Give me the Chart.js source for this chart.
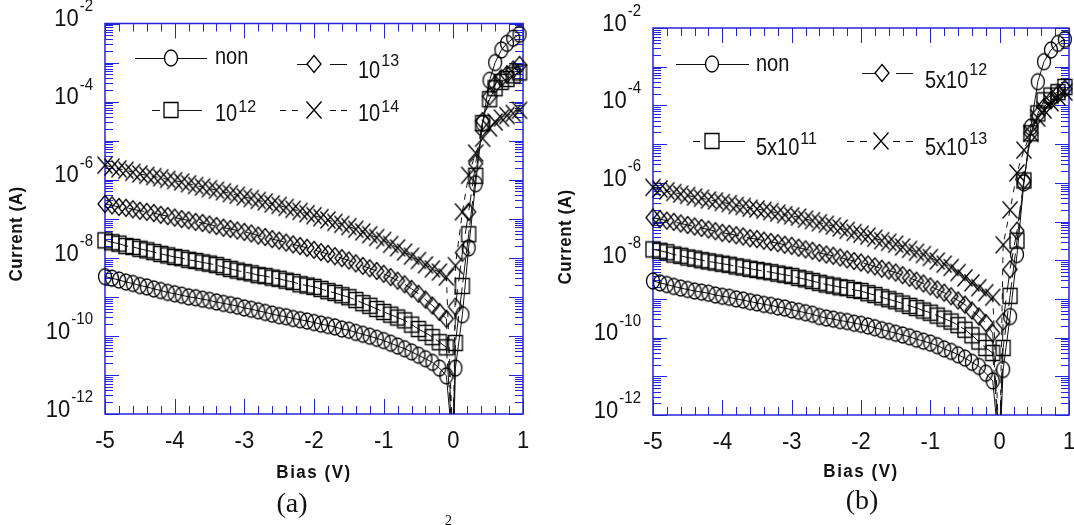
<!DOCTYPE html>
<html>
<head>
<meta charset="utf-8">
<title>Current vs bias</title>
<script src="https://cdn.jsdelivr.net/npm/chart.js@4.4.1/dist/chart.umd.min.js"></script>
<style>
    html, body { margin: 0; padding: 0; background: #fff; }
    #page { position: relative; width: 1074px; height: 525px; overflow: hidden; background: #fff; }
    #page canvas { position: absolute; top: 0; }
    .cap { position: absolute; width: 80px; text-align: center; line-height: 1;
           font-family: "Liberation Serif", "Times New Roman", serif; font-size: 28px; color: #111; }
    .cut { position: absolute; font-family: "Liberation Serif", serif; font-size: 14px; color: #111; line-height: 1; }
</style>
</head>
<body>
<div id="page">
    <canvas id="chartA" width="537" height="490" style="left:0"></canvas>
    <canvas id="chartB" width="537" height="490" style="left:537px"></canvas>
    <div class="cap" style="left:252px; top:489px">(a)</div>
    <div class="cap" style="left:822px; top:486px">(b)</div>
    <div class="cut" style="left:445px; top:514px">2</div>
</div>
<script>
// bias points, shared by all curves of a panel
const biasNeg = [-5.0, -4.9, -4.8, -4.7, -4.6, -4.5, -4.4, -4.3, -4.2, -4.1,
                 -4.0, -3.9, -3.8, -3.7, -3.6, -3.5, -3.4, -3.3, -3.2, -3.1,
                 -3.0, -2.9, -2.8, -2.7, -2.6, -2.5, -2.4, -2.3, -2.2, -2.1,
                 -2.0, -1.9, -1.8, -1.7, -1.6, -1.5, -1.4, -1.3, -1.2, -1.1,
                 -1.0, -0.9, -0.8, -0.7, -0.6, -0.5, -0.4, -0.3, -0.2, -0.1, 0.0];
const biasPosA = [0.03, 0.13, 0.22, 0.32, 0.42, 0.52, 0.60, 0.69, 0.77, 0.86, 0.95];
const biasPosB = [0.05, 0.15, 0.25, 0.35, 0.45, 0.55, 0.64, 0.74, 0.84, 0.94];

// panel (a) currents (A)
const curNonA = [3.3e-9, 3.0e-9, 2.7e-9, 2.4e-9, 2.2e-9, 1.95e-9, 1.8e-9, 1.6e-9, 1.45e-9, 1.3e-9,
                 1.2e-9, 1.1e-9, 1.0e-9, 9.5e-10, 8.7e-10, 8.1e-10, 7.4e-10, 6.8e-10, 6.3e-10, 5.8e-10,
                 5.2e-10, 4.8e-10, 4.4e-10, 4.0e-10, 3.6e-10, 3.3e-10, 3.1e-10, 2.8e-10, 2.6e-10, 2.4e-10,
                 2.2e-10, 2.0e-10, 1.85e-10, 1.7e-10, 1.5e-10, 1.4e-10, 1.23e-10, 1.1e-10, 9.8e-11, 8.7e-11,
                 7.6e-11, 6.5e-11, 5.5e-11, 4.7e-11, 3.9e-11, 3.2e-11, 2.6e-11, 2.1e-11, 1.5e-11, 9.5e-12,
                 1e-13,
                 1.5e-11, 3.5e-10, 1.8e-8, 7.9e-7, 2.8e-5, 3.5e-4, 1.0e-3, 2.1e-3, 3.1e-3, 4.2e-3, 5.3e-3];
const cur1e12A = [2.8e-8, 2.5e-8, 2.3e-8, 2.0e-8, 1.9e-8, 1.7e-8, 1.55e-8, 1.4e-8, 1.26e-8, 1.15e-8,
                  1.05e-8, 9.8e-9, 8.9e-9, 8.3e-9, 7.6e-9, 7.1e-9, 6.5e-9, 5.8e-9, 5.2e-9, 4.7e-9,
                  4.3e-9, 4.0e-9, 3.6e-9, 3.4e-9, 3.1e-9, 2.9e-9, 2.6e-9, 2.4e-9, 2.1e-9, 1.95e-9,
                  1.8e-9, 1.6e-9, 1.4e-9, 1.26e-9, 1.1e-9, 9.8e-10, 8.3e-10, 6.9e-10, 5.9e-10, 4.9e-10,
                  4.1e-10, 3.5e-10, 2.95e-10, 2.5e-10, 1.95e-10, 1.5e-10, 1.2e-10, 9.3e-11, 6.9e-11, 5.1e-11,
                  1e-13,
                  6.6e-11, 1.9e-9, 4.0e-8, 1.26e-6, 2.8e-5, 1.15e-4, 2.2e-4, 3.2e-4, 3.8e-4, 4.7e-4, 5.6e-4];
const cur1e13A = [2.4e-7, 2.2e-7, 2.0e-7, 1.9e-7, 1.75e-7, 1.6e-7, 1.5e-7, 1.4e-7, 1.26e-7, 1.17e-7,
                  1.07e-7, 9.8e-8, 9.1e-8, 8.3e-8, 7.8e-8, 7.1e-8, 6.5e-8, 5.9e-8, 5.5e-8, 5.0e-8,
                  4.6e-8, 4.2e-8, 3.7e-8, 3.4e-8, 3.0e-8, 2.75e-8, 2.45e-8, 2.2e-8, 2.0e-8, 1.8e-8,
                  1.6e-8, 1.4e-8, 1.26e-8, 1.1e-8, 9.8e-9, 8.5e-9, 7.2e-9, 6.2e-9, 5.4e-9, 4.6e-9,
                  3.9e-9, 3.2e-9, 2.6e-9, 2.1e-9, 1.6e-9, 1.2e-9, 8.5e-10, 6.0e-10, 4.1e-10, 2.75e-10,
                  1e-13,
                  5.6e-10, 1.35e-8, 1.5e-7, 2.6e-6, 3.2e-5, 1.35e-4, 2.8e-4, 4.0e-4, 5.0e-4, 6.6e-4, 8.7e-4];
const cur1e14A = [2.35e-6, 2.1e-6, 1.9e-6, 1.75e-6, 1.55e-6, 1.4e-6, 1.3e-6, 1.2e-6, 1.12e-6, 1.02e-6,
                  9.5e-7, 8.7e-7, 7.9e-7, 7.1e-7, 6.5e-7, 5.9e-7, 5.4e-7, 4.9e-7, 4.4e-7, 4.0e-7,
                  3.6e-7, 3.3e-7, 2.95e-7, 2.7e-7, 2.4e-7, 2.2e-7, 1.95e-7, 1.75e-7, 1.55e-7, 1.35e-7,
                  1.2e-7, 1.07e-7, 9.3e-8, 8.1e-8, 7.2e-8, 6.3e-8, 5.4e-8, 4.6e-8, 3.9e-8, 3.3e-8,
                  2.8e-8, 2.2e-8, 1.8e-8, 1.4e-8, 1.1e-8, 8.5e-9, 6.6e-9, 5.2e-9, 4.3e-9, 3.2e-9,
                  1e-13,
                  6.3e-9, 1.5e-7, 1.3e-6, 4.8e-6, 1.15e-5, 2.1e-5, 3.0e-5, 3.8e-5, 4.4e-5, 5.0e-5, 6.0e-5];

// panel (b) currents (A)
const curNonB = [2.9e-9, 2.6e-9, 2.35e-9, 2.1e-9, 1.9e-9, 1.75e-9, 1.6e-9, 1.5e-9, 1.4e-9, 1.26e-9,
                 1.17e-9, 1.1e-9, 1.0e-9, 9.3e-10, 8.5e-10, 7.9e-10, 7.2e-10, 6.8e-10, 6.2e-10, 5.8e-10,
                 5.2e-10, 4.8e-10, 4.4e-10, 4.0e-10, 3.5e-10, 3.2e-10, 3.0e-10, 2.75e-10, 2.6e-10, 2.35e-10,
                 2.2e-10, 2.0e-10, 1.8e-10, 1.6e-10, 1.45e-10, 1.3e-10, 1.17e-10, 1.05e-10, 9.1e-11, 8.1e-11,
                 7.2e-11, 6.2e-11, 5.1e-11, 4.4e-11, 3.6e-11, 2.95e-11, 2.3e-11, 1.8e-11, 1.2e-11, 7.6e-12,
                 1e-13,
                 1.5e-11, 3.5e-10, 1.4e-8, 1.0e-6, 2.75e-5, 4.1e-4, 1.35e-3, 2.7e-3, 4.0e-3, 5.1e-3];
const cur5e11B = [1.9e-8, 1.75e-8, 1.6e-8, 1.4e-8, 1.3e-8, 1.17e-8, 1.1e-8, 1.0e-8, 9.3e-9, 8.7e-9,
                  8.1e-9, 7.6e-9, 6.9e-9, 6.5e-9, 6.0e-9, 5.6e-9, 5.2e-9, 4.9e-9, 4.5e-9, 4.2e-9,
                  3.9e-9, 3.5e-9, 3.2e-9, 2.9e-9, 2.6e-9, 2.35e-9, 2.2e-9, 2.0e-9, 1.9e-9, 1.7e-9,
                  1.6e-9, 1.4e-9, 1.26e-9, 1.1e-9, 9.8e-10, 8.7e-10, 7.6e-10, 6.6e-10, 5.8e-10, 5.0e-10,
                  4.4e-10, 3.7e-10, 3.1e-10, 2.6e-10, 2.1e-10, 1.6e-10, 1.15e-10, 7.9e-11, 5.4e-11, 4.0e-11,
                  1e-13,
                  5.4e-11, 1.2e-9, 3.2e-8, 1.15e-6, 1.9e-5, 6.2e-5, 1.35e-4, 1.8e-4, 2.2e-4, 3.0e-4];
const cur5e12B = [1.26e-7, 1.15e-7, 1.05e-7, 9.8e-8, 8.9e-8, 8.1e-8, 7.4e-8, 6.8e-8, 6.2e-8, 5.6e-8,
                  5.1e-8, 4.8e-8, 4.4e-8, 4.1e-8, 3.7e-8, 3.5e-8, 3.2e-8, 2.95e-8, 2.75e-8, 2.5e-8,
                  2.35e-8, 2.1e-8, 1.9e-8, 1.75e-8, 1.55e-8, 1.4e-8, 1.3e-8, 1.17e-8, 1.05e-8, 9.5e-9,
                  8.7e-9, 7.8e-9, 6.9e-9, 6.0e-9, 5.4e-9, 4.8e-9, 4.1e-9, 3.5e-9, 2.95e-9, 2.5e-9,
                  2.1e-9, 1.75e-9, 1.45e-9, 1.17e-9, 9.1e-10, 7.1e-10, 5.0e-10, 3.5e-10, 2.4e-10, 1.3e-10,
                  1e-13,
                  2.6e-10, 5.8e-9, 5.8e-8, 1.15e-6, 1.9e-5, 5.5e-5, 9.1e-5, 1.35e-4, 2.0e-4, 2.7e-4];
const cur5e13B = [7.6e-7, 6.9e-7, 6.2e-7, 5.6e-7, 5.1e-7, 4.7e-7, 4.3e-7, 4.0e-7, 3.6e-7, 3.4e-7,
                  3.1e-7, 2.9e-7, 2.6e-7, 2.45e-7, 2.2e-7, 2.1e-7, 1.95e-7, 1.8e-7, 1.65e-7, 1.5e-7,
                  1.4e-7, 1.3e-7, 1.15e-7, 1.05e-7, 9.3e-8, 8.5e-8, 7.6e-8, 6.8e-8, 5.9e-8, 5.2e-8,
                  4.7e-8, 4.2e-8, 3.7e-8, 3.2e-8, 2.9e-8, 2.6e-8, 2.2e-8, 1.9e-8, 1.6e-8, 1.4e-8,
                  1.17e-8, 9.5e-9, 7.9e-9, 6.5e-9, 4.8e-9, 3.5e-9, 2.6e-9, 1.95e-9, 1.45e-9, 1.1e-9,
                  1e-13,
                  2.5e-8, 2.0e-7, 1.8e-6, 7.0e-6, 1.9e-5, 4.7e-5, 7.6e-5, 1.17e-4, 1.65e-4, 2.2e-4];

// labels
const xTickLabels = ['-5', '-4', '-3', '-2', '-1', '0', '1'];
const yTickExps = [-12, -10, -8, -6, -4, -2];
const namesA = [['non', ''], ['10', '12'], ['10', '13'], ['10', '14']];
const namesB = [['non', ''], ['5x10', '11'], ['5x10', '12'], ['5x10', '13']];

const AXIS_BLUE = '#2424dc';
const INK = '#000';
const SANS = '"Liberation Sans", Arial, Helvetica, sans-serif';

// hollow markers, a little taller than wide like in the scan
function makeMarker(kind) {
    const c = document.createElement('canvas');
    c.width = 24;
    c.height = 24;
    const g = c.getContext('2d');
    g.strokeStyle = INK;
    g.lineWidth = 1.3;
    g.beginPath();
    if (kind === 'circle') {
        g.ellipse(12, 12, 6.5, 8, 0, 0, Math.PI * 2);
    } else if (kind === 'square') {
        g.rect(5, 4.5, 14, 15);
    } else if (kind === 'diamond') {
        g.moveTo(12, 3.5); g.lineTo(19, 12); g.lineTo(12, 20.5); g.lineTo(5, 12); g.closePath();
    } else {
        g.moveTo(4.5, 3.5); g.lineTo(19.5, 20.5);
        g.moveTo(19.5, 3.5); g.lineTo(4.5, 20.5);
    }
    g.stroke();
    return c;
}
const markers = {
    circle: makeMarker('circle'),
    square: makeMarker('square'),
    diamond: makeMarker('diamond'),
    cross: makeMarker('cross')
};

function put(ctx, s, x, y, font, align, sy, spacing) {
    ctx.save();
    ctx.font = font;
    if (spacing && 'letterSpacing' in ctx) ctx.letterSpacing = spacing;
    ctx.fillStyle = '#111';
    ctx.textAlign = align;
    ctx.textBaseline = 'middle';
    ctx.translate(x, y);
    ctx.scale(1, sy || 1);
    ctx.fillText(s, 0, 0);
    ctx.restore();
}

function widthOf(ctx, s, font) {
    ctx.save();
    ctx.font = font;
    const w = ctx.measureText(s).width;
    ctx.restore();
    return w;
}

// frame, inward ticks, tick labels, titles and legend
function decorations(panel) {
    return {
        id: 'deco_' + panel.id,
        beforeDatasetsDraw(chart) {
            const { ctx, chartArea: a, scales: { x, y } } = chart;
            ctx.save();
            ctx.strokeStyle = AXIS_BLUE;
            ctx.lineWidth = 1;
            ctx.beginPath();
            for (let i = 0; i <= 30; i++) {
                const px = Math.round(x.getPixelForValue(-5 + i * 0.2)) + 0.5;
                const len = i % 5 === 0 ? 15 : 8;
                ctx.moveTo(px, a.bottom); ctx.lineTo(px, a.bottom - len);
                ctx.moveTo(px, a.top); ctx.lineTo(px, a.top + len);
            }
            for (let e = -12; e <= -2; e++) {
                for (let m = 1; m <= 9; m++) {
                    if (e === -2 && m > 1) break;
                    const py = Math.round(y.getPixelForValue(m * Math.pow(10, e))) + 0.5;
                    const len = m === 1 ? 14 : 8;
                    ctx.moveTo(a.left, py); ctx.lineTo(a.left + len, py);
                    ctx.moveTo(a.right, py); ctx.lineTo(a.right - len, py);
                }
            }
            ctx.stroke();
            ctx.lineWidth = 1.5;
            ctx.strokeRect(a.left, a.top, a.right - a.left, a.bottom - a.top);
            ctx.restore();
        },
        afterDraw(chart) {
            const { ctx, chartArea: a, scales: { x, y } } = chart;
            const tickFont = '22px ' + SANS;
            const expFont = '15px ' + SANS;

            xTickLabels.forEach(lbl => {
                put(ctx, lbl, x.getPixelForValue(Number(lbl)), a.bottom + 27, tickFont, 'center', 1.12);
            });

            yTickExps.forEach(e => {
                const py = y.getPixelForValue(Math.pow(10, e));
                const xr = a.left - 12;
                const ew = widthOf(ctx, String(e), expFont);
                put(ctx, String(e), xr, py - 16.5, expFont, 'right', 1.08);
                put(ctx, '10', xr - ew - 1, py - 4, tickFont, 'right', 1.12);
            });

            const titleFont = 'bold 17px ' + SANS;
            put(ctx, 'Bias (V)', (a.left + a.right) / 2, panel.xTitleY, titleFont, 'center', 1.06, '1.5px');
            ctx.save();
            ctx.translate(panel.yTitle.x, panel.yTitle.y);
            ctx.rotate(-Math.PI / 2);
            put(ctx, 'Current (A)', 0, 0, titleFont, 'center', 1.06, '0.5px');
            ctx.restore();

            // legend
            const legFont = '20px ' + SANS;
            const legExpFont = '16px ' + SANS;
            ctx.save();
            ctx.strokeStyle = '#111';
            ctx.lineWidth = 1;
            panel.legend.forEach((item, i) => {
                ctx.beginPath();
                item.segs.forEach(s => {
                    ctx.moveTo(s[0], item.my + 0.5);
                    ctx.lineTo(s[1], item.my + 0.5);
                });
                ctx.stroke();
                ctx.drawImage(markers[item.marker], item.mx - 12, item.my - 12);
                const name = panel.names[i];
                put(ctx, name[0], item.tx, item.by, legFont, 'left', 1.15);
                if (name[1]) {
                    const bw = widthOf(ctx, name[0], legFont);
                    put(ctx, name[1], item.tx + bw + 1, item.ey, legExpFont, 'left', 1.05);
                }
            });
            ctx.restore();
        }
    };
}

function series(xs, ys, marker, dash) {
    return {
        data: xs.map((v, i) => ({ x: v, y: ys[i] })),
        borderColor: '#111',
        borderWidth: 1,
        borderDash: dash,
        pointStyle: markers[marker],
        pointRadius: 7,
        pointHoverRadius: 7,
        tension: 0,
        fill: false,
        clip: { left: 14, right: 14, top: 14, bottom: 0 }
    };
}

function makePanel(panel) {
    const canvas = document.getElementById(panel.id);
    return new Chart(canvas, {
        type: 'line',
        data: { datasets: panel.datasets },
        options: {
            responsive: false,
            animation: false,
            events: [],
            layout: {
                autoPadding: false,
                padding: { left: 0, top: panel.padTop, right: panel.padRight, bottom: 0 }
            },
            plugins: { legend: { display: false }, tooltip: { enabled: false } },
            scales: {
                x: {
                    type: 'linear', min: -5, max: 1,
                    ticks: { display: false },
                    grid: { display: false },
                    border: { display: false },
                    afterFit: s => { s.height = panel.axisH; }
                },
                y: {
                    type: 'logarithmic', min: 1e-12, max: 1e-2,
                    ticks: { display: false },
                    grid: { display: false },
                    border: { display: false },
                    afterFit: s => { s.width = panel.axisW; }
                }
            }
        },
        plugins: [decorations(panel)]
    });
}

const biasA = biasNeg.concat(biasPosA);
const biasB = biasNeg.concat(biasPosB);

makePanel({
    id: 'chartA', padTop: 23.5, padRight: 14, axisW: 105, axisH: 76,
    xTitleY: 473, yTitle: { x: 17.5, y: 234 },
    names: namesA,
    datasets: [
        series(biasA, curNonA, 'circle', []),
        series(biasA, cur1e12A, 'square', [24, 5]),
        series(biasA, cur1e13A, 'diamond', [16, 8]),
        series(biasA, cur1e14A, 'cross', [6, 6])
    ],
    legend: [
        { marker: 'circle', segs: [[135, 164], [178, 207]], mx: 171, my: 58, tx: 215, by: 58 },
        { marker: 'square', segs: [[152, 160], [178, 202]], mx: 171, my: 110, tx: 215, by: 115, ey: 107 },
        { marker: 'diamond', segs: [[297, 307], [330, 347]], mx: 314, my: 64, tx: 358, by: 72, ey: 61 },
        { marker: 'cross', segs: [[280, 286], [292, 298], [330, 336], [341, 347]], mx: 314, my: 110, tx: 358, by: 115, ey: 107 }
    ]
});

makePanel({
    id: 'chartB', padTop: 28, padRight: 5, axisW: 116, axisH: 75,
    xTitleY: 472, yTitle: { x: 29, y: 237 },
    names: namesB,
    datasets: [
        series(biasB, curNonB, 'circle', []),
        series(biasB, cur5e11B, 'square', [24, 5]),
        series(biasB, cur5e12B, 'diamond', [16, 8]),
        series(biasB, cur5e13B, 'cross', [6, 6])
    ],
    legend: [
        { marker: 'circle', segs: [[139, 168], [182, 212]], mx: 175, my: 64, tx: 219, by: 65 },
        { marker: 'square', segs: [[156, 163], [182, 208]], mx: 175, my: 141, tx: 219, by: 149, ey: 139 },
        { marker: 'diamond', segs: [[325, 338], [359, 376]], mx: 345, my: 73, tx: 388, by: 82, ey: 70 },
        { marker: 'cross', segs: [[310, 317], [323, 330], [356, 363], [369, 376]], mx: 344, my: 141, tx: 388, by: 149, ey: 139 }
    ]
});
</script>
</body>
</html>
